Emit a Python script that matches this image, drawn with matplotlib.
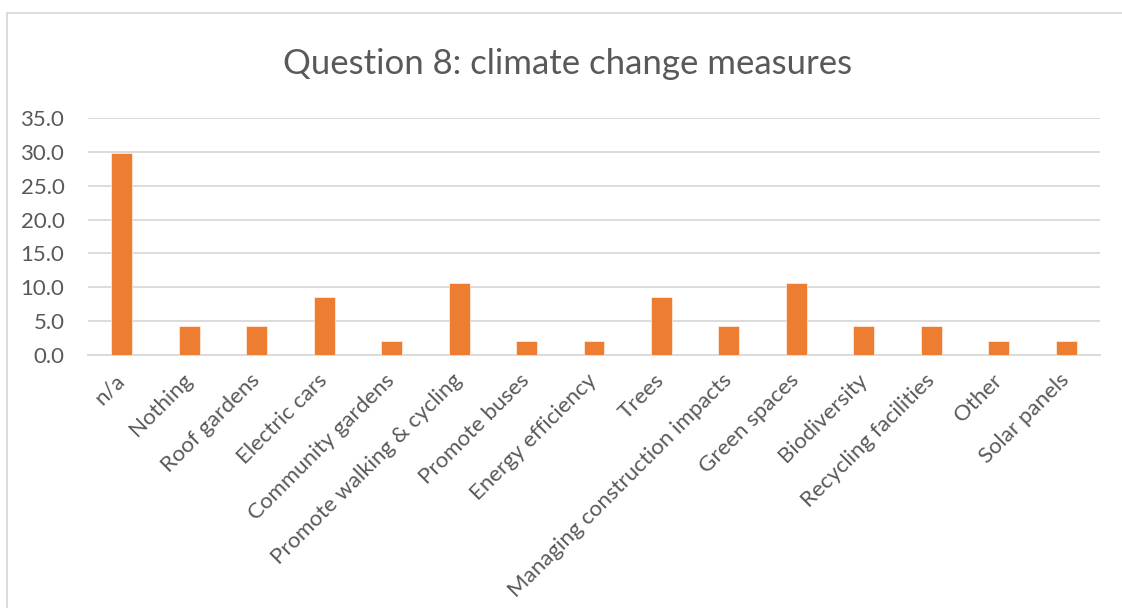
import matplotlib
matplotlib.use("Agg")
import matplotlib.pyplot as plt
from matplotlib.lines import Line2D

categories = ["n/a", "Nothing", "Roof gardens", "Electric cars", "Community gardens",
              "Promote walking & cycling", "Promote buses", "Energy efficiency", "Trees",
              "Managing construction impacts", "Green spaces", "Biodiversity",
              "Recycling facilities", "Other", "Solar panels"]
values = [29.8, 4.3, 4.3, 8.5, 2.1, 10.6, 2.1, 2.1, 8.5, 4.3, 10.6, 4.3, 4.3, 2.1, 2.1]
yticks = [0, 5, 10, 15, 20, 25, 30, 35]

plt.rcParams['font.family'] = ['Lato', 'DejaVu Sans']
text_color = "#595959"
grid_color = "#D9D9D9"
bar_color = "#ED7D31"

W, H = 1122, 608
fig = plt.figure(figsize=(W / 100, H / 100), dpi=100)

# chart frame: left and top edges (the rest runs off the canvas)
fx, fy = 6.5 / W, 1 - 12.5 / H
fig.add_artist(Line2D([fx, fx], [0, fy], transform=fig.transFigure,
                      color=grid_color, linewidth=1.3))
fig.add_artist(Line2D([fx, 1], [fy, fy], transform=fig.transFigure,
                      color=grid_color, linewidth=1.3))

left, right = 88 / W, 1100 / W
bottom, top = 1 - 355 / H, 1 - 118 / H
ax = fig.add_axes([left, bottom, right - left, top - bottom])

x = list(range(len(categories)))
ax.bar(x, values, width=0.31, color=bar_color, edgecolor="white", linewidth=0.4, zorder=3)
ax.set_xlim(-0.5, len(categories) - 0.5)
ax.set_ylim(0, 35)
ax.set_yticks(yticks)
ax.set_yticklabels([f"{v:.1f}" for v in yticks], fontsize=16, color=text_color)
ax.yaxis.grid(True, color=grid_color, linewidth=1.3, zorder=0)
ax.tick_params(axis="y", length=0, pad=17)
ax.tick_params(axis="x", length=0, pad=16)
ax.set_xticks(x)
ax.set_xticklabels(categories, rotation=45, ha="right", va="center",
                   rotation_mode="anchor", fontsize=16, color=text_color)
for s in ax.spines.values():
    s.set_visible(False)
ax.spines["bottom"].set_visible(True)
ax.spines["bottom"].set_color(grid_color)
ax.spines["bottom"].set_linewidth(1.3)

fig.text((285 + 850) / 2 / W, 1 - 64 / H, "Question 8: climate change measures",
         ha="center", va="center", fontsize=25, color=text_color)

fig.savefig("out.png", dpi=100)
